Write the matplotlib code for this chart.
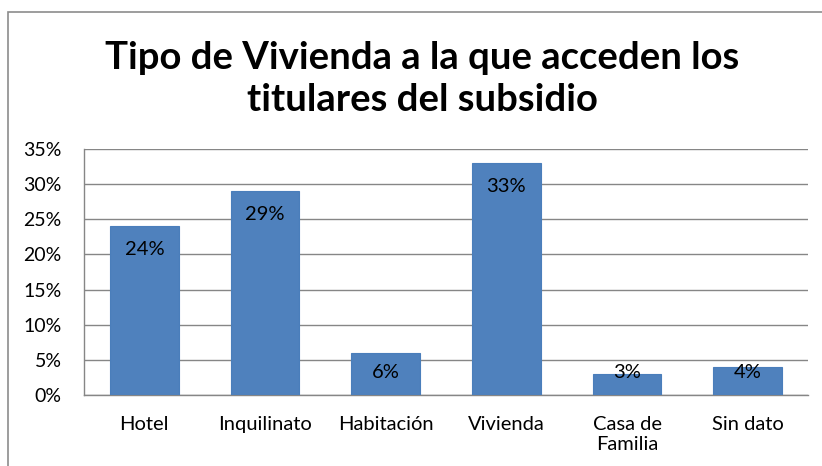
import matplotlib
matplotlib.use("Agg")
import matplotlib.pyplot as plt
from matplotlib.patches import Rectangle
from matplotlib.ticker import FuncFormatter, MultipleLocator

categories = ["Hotel", "Inquilinato", "Habitación", "Vivienda", "Casa de\nFamilia", "Sin dato"]
values = [24, 29, 6, 33, 3, 4]
title = "Tipo de Vivienda a la que acceden los\ntitulares del subsidio"

plt.rcParams['font.family'] = ['Lato', 'DejaVu Sans']

W, H = 822, 466
fig = plt.figure(figsize=(W / 100, H / 100), dpi=100)
fig.patch.set_facecolor("white")

# outer border
fig.add_artist(Rectangle((8 / W, -0.1), 1.2, (H - 12) / H + 0.1, transform=fig.transFigure,
                         fill=False, edgecolor="#8c8c8c", linewidth=1.2))

left, right, top, bottom = 84, 808, 149, 395
ax = fig.add_axes([left / W, (H - bottom) / H, (right - left) / W, (bottom - top) / H])

x = range(len(categories))
ax.bar(x, values, width=0.57, color="#4F81BD", edgecolor="#4A7EBB", linewidth=0.8, zorder=3)
ax.set_xlim(-0.5, len(categories) - 0.5)
ax.set_ylim(0, 35)
ax.yaxis.set_major_locator(MultipleLocator(5))
ax.yaxis.set_major_formatter(FuncFormatter(lambda v, p: f"{int(round(v))}%"))
ax.grid(axis="y", color="#868686", linewidth=1, zorder=0)
ax.set_axisbelow(True)
for s in ["top", "right"]:
    ax.spines[s].set_visible(False)
for s in ["left", "bottom"]:
    ax.spines[s].set_color("#868686")
    ax.spines[s].set_linewidth(1)
ax.tick_params(axis="y", length=0, labelsize=14, pad=16)
ax.tick_params(axis="x", length=0, labelsize=14.5, pad=15)
ax.set_xticks(list(x))
ax.set_xticklabels(categories, linespacing=1.25)

# data labels: inside end, clamped above baseline
off_px = 23
off_data = off_px / (bottom - top) * 35
for i, v in enumerate(values):
    ypos = max(v - off_data, off_data)
    ax.text(i, ypos, f"{v}%", ha="center", va="center", fontsize=14.5, color="black", zorder=4)

fig.text(0.514, (H - 79) / H, title, ha="center", va="center", fontsize=27.5, fontweight="bold",
         linespacing=1.28)

fig.savefig("out.png", dpi=100)
